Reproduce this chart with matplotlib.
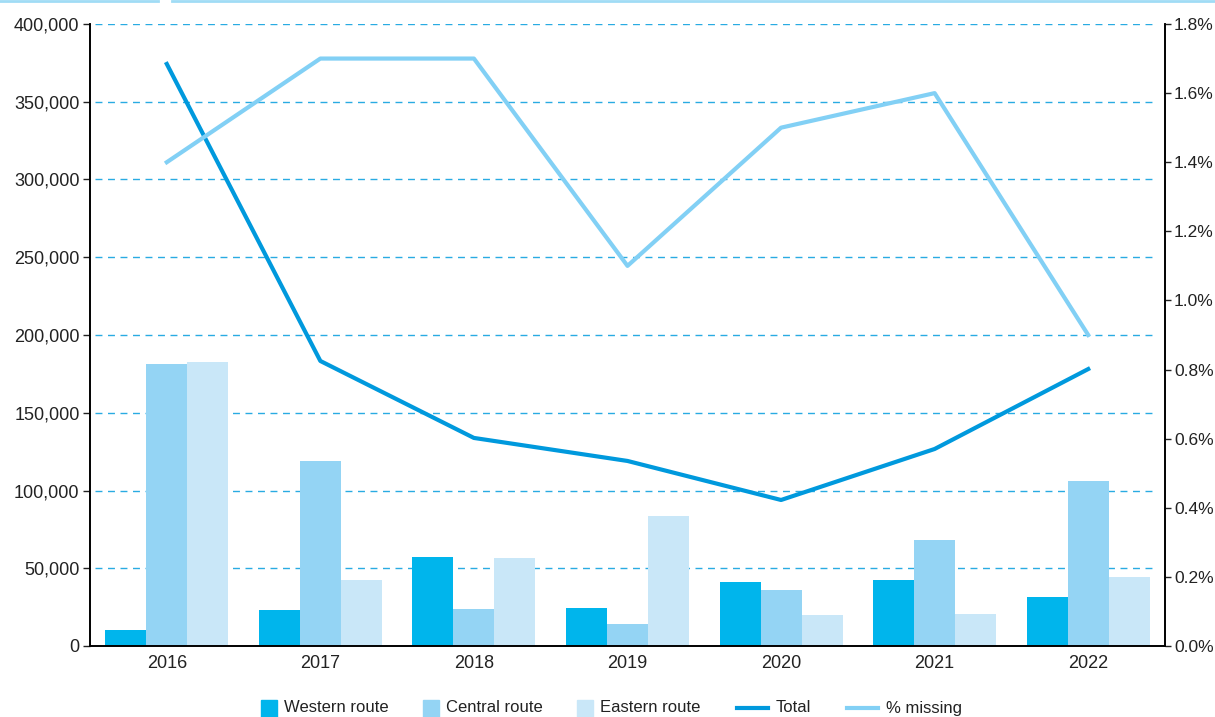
import numpy as np
import matplotlib
matplotlib.use("Agg")
from matplotlib import pyplot as plt
from matplotlib.lines import Line2D
from matplotlib.patches import Rectangle
from matplotlib.ticker import FuncFormatter

# data
years = ["2016", "2017", "2018", "2019", "2020", "2021", "2022"]
western = [10300, 23200, 57200, 24400, 41200, 42400, 31500]
central = [181300, 119000, 23800, 14100, 36000, 68200, 106100]
eastern = [182600, 42400, 56600, 83600, 19900, 20600, 44400]
total = [374300, 183300, 133800, 119000, 93900, 126700, 178100]
pct_missing = [1.40, 1.70, 1.70, 1.10, 1.50, 1.60, 0.90]

c_west = "#00b5ec"
c_cent = "#94d4f4"
c_east = "#c9e7f8"
c_total = "#0099dd"
c_pct = "#82d0f5"
c_grid = "#29abe2"

plt.rcParams["font.family"] = ["Liberation Sans", "DejaVu Sans"]

W, H = 1215, 717
fig = plt.figure(figsize=(W / 100, H / 100), dpi=100)
ax = fig.add_axes([90 / W, 1 - 646 / H, (1165 - 90) / W, (646 - 24) / H])
ax2 = ax.twinx()

x = np.arange(len(years))
w = 0.267
ax.bar(x - w, western, w, color=c_west, zorder=2)
ax.bar(x, central, w, color=c_cent, zorder=2)
ax.bar(x + w, eastern, w, color=c_east, zorder=2)
ax.plot(x, total, color=c_total, lw=3, zorder=4)
ax2.plot(x, pct_missing, color=c_pct, lw=3, zorder=4)

ax.set_xlim(-0.5, len(years) - 0.5)
ax.set_ylim(0, 400000)
ax2.set_ylim(0, 1.8)
ax.set_yticks(np.arange(0, 400001, 50000))
ax2.set_yticks(np.arange(0, 1.81, 0.2))
ax.yaxis.set_major_formatter(FuncFormatter(lambda v, p: f"{int(v):,}"))
ax2.yaxis.set_major_formatter(FuncFormatter(lambda v, p: f"{v:.1f}%"))
ax.set_xticks(x)
ax.set_xticklabels(years)

for v in np.arange(50000, 400001, 50000):
    ax.axhline(v, xmin=0.005, xmax=0.993, color=c_grid, lw=1, ls=(0, (5, 4)), zorder=1)

for a in (ax, ax2):
    a.spines["top"].set_visible(False)
    a.spines["left"].set_linewidth(1.2)
    a.spines["right"].set_linewidth(1.2)
    a.spines["bottom"].set_linewidth(1.2)
ax.tick_params(axis="y", labelsize=13, colors="#222222", length=5, width=1, pad=2.5)
ax2.tick_params(axis="y", labelsize=12.5, colors="#222222", length=4, width=1, pad=2.5)
ax.tick_params(axis="x", labelsize=13, colors="#222222", length=0, pad=6.5)

# legend drawn by hand so squares and line keys can have different lengths
legend_items = [
    ("Western route", "box", c_west, 261),
    ("Central route", "box", c_cent, 423),
    ("Eastern route", "box", c_east, 577),
    ("Total", "line", c_total, 737),
    ("% missing", "line", c_pct, 847),
]
ly = 708
for label, kind, col, px in legend_items:
    if kind == "box":
        fig.add_artist(Rectangle((px / W, 1 - 717 / H), 16 / W, 17 / H,
                                 transform=fig.transFigure, color=col))
        tx = px + 16 + 7
    else:
        fig.add_artist(Line2D([px / W, (px + 31) / W], [1 - ly / H] * 2, color=col, lw=3))
        tx = px + 31 + 8
    fig.text(tx / W, 1 - ly / H, label, fontsize=12, color="#222222", va="center", ha="left")

# decorative top rule
fig.add_artist(Line2D([0, 158 / W], [0.999, 0.999], color="#a0dcf5", lw=2))
fig.add_artist(Line2D([172 / W, 1], [0.999, 0.999], color="#a0dcf5", lw=2))

fig.savefig("out.png", dpi=100)
